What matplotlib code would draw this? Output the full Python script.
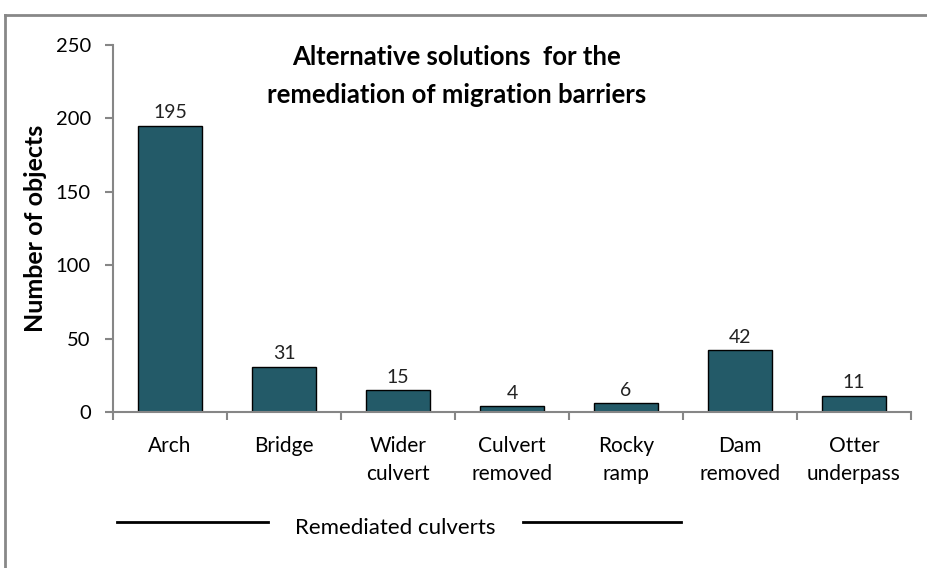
import numpy as np
import matplotlib.pyplot as plt
from matplotlib.lines import Line2D

categories = ['Arch', 'Bridge', 'Wider\nculvert', 'Culvert\nremoved', 'Rocky\nramp', 'Dam\nremoved', 'Otter\nunderpass']
counts = [195, 31, 15, 4, 6, 42, 11]

plt.rcParams['font.family'] = ['Lato', 'DejaVu Sans']

fig = plt.figure(figsize=(9.27, 5.68), dpi=100)
ax = fig.add_axes([0.1219, 0.2746, 0.8608, 0.6462])

x = np.arange(len(categories))
ax.bar(x, counts, width=0.56, color='#235a68', edgecolor='black', linewidth=1)
for xi, c in zip(x, counts):
    ax.text(xi, c + 3, str(c), ha='center', va='bottom', fontsize=14, color='#222222')

ax.set_xlim(-0.5, len(categories) - 0.5)
ax.set_ylim(0, 250)
ax.set_yticks(range(0, 251, 50))
ax.tick_params(axis='y', labelsize=14.5, length=6, color='#868686', width=1.5, pad=10)
ax.set_xticks(np.arange(-0.5, len(categories), 1))
ax.set_xticklabels([])
ax.set_xticks(x, minor=True)
ax.set_xticklabels(categories, minor=True, fontsize=15, linespacing=1.5)
ax.tick_params(axis='x', which='minor', length=0, pad=17)
ax.tick_params(axis='x', which='major', length=6, color='#868686', width=1.5)
for s in ['top', 'right']:
    ax.spines[s].set_visible(False)
for s in ['left', 'bottom']:
    ax.spines[s].set_color('#868686')
    ax.spines[s].set_linewidth(1.5)

ax.set_ylabel('Number of objects', fontsize=18, fontweight='bold')
ax.yaxis.set_label_coords(-(113 - 47) / 798, 0.5)
ax.text(0.431, 1.0, 'Alternative solutions  for the\nremediation of migration barriers',
        transform=ax.transAxes, ha='center', va='top', fontsize=18.5, fontweight='bold',
        linespacing=1.72)

# group label with lines
fig.text(395 / 927, 1 - 528 / 568, 'Remediated culverts', ha='center', va='center', fontsize=16)
fig.add_artist(Line2D([117 / 927, 268 / 927], [1 - 522 / 568] * 2, color='black', lw=2))
fig.add_artist(Line2D([523 / 927, 681 / 927], [1 - 522 / 568] * 2, color='black', lw=2))

# outer chart frame
fig.add_artist(Line2D([5 / 927, 1], [1 - 15 / 568] * 2, color='#888888', lw=2))
fig.add_artist(Line2D([5 / 927] * 2, [0, 1 - 15 / 568], color='#888888', lw=2))

fig.savefig('out.png', dpi=100)
